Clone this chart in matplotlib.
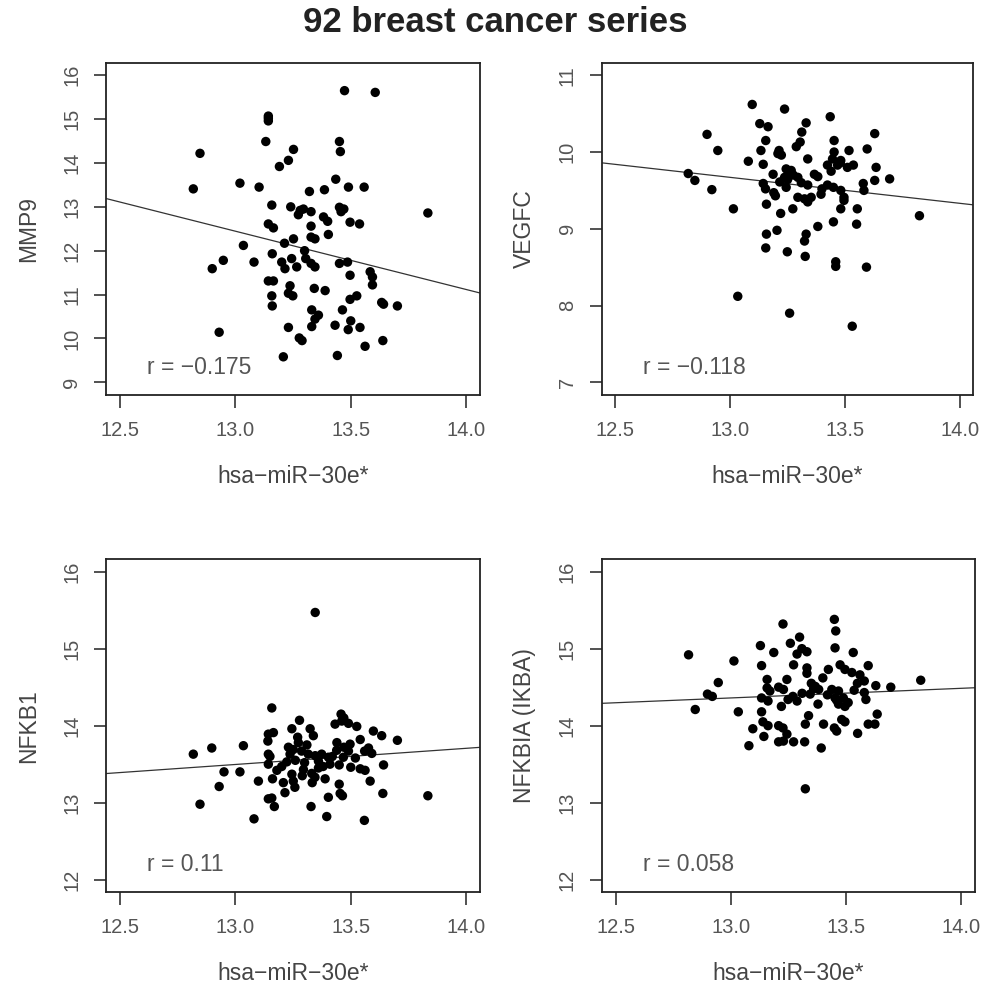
import numpy as np
import matplotlib
matplotlib.use("Agg")
import matplotlib.pyplot as plt

plt.rcParams['font.family'] = ['Liberation Sans', 'DejaVu Sans']

# --- data ----------------------------------------------------------------
mmp9_x = [13.473, 13.606, 13.143, 13.143, 13.132, 13.451, 13.455, 12.847, 13.252, 13.23,
          13.191, 13.435, 12.818, 13.02, 13.103, 13.321, 13.386, 13.49, 13.558, 13.158,
          13.24, 13.281, 13.295, 13.328, 13.273, 13.451, 13.458, 13.382, 13.40, 13.834,
          13.497, 13.538, 13.143, 13.165, 13.328, 13.403, 13.328, 13.345, 13.252, 13.213,
          13.035, 13.16, 13.244, 13.201, 13.215, 13.266, 13.305, 13.328, 13.345, 13.451,
          13.486, 13.497, 13.584, 13.594, 13.594, 12.948, 12.90, 13.081, 13.143, 13.165,
          13.158, 13.16, 13.237, 13.23, 13.249, 13.342, 13.389, 13.497, 13.526, 13.634,
          13.642, 13.702, 13.331, 13.36, 13.345, 13.331, 13.464, 13.432, 13.50, 13.489,
          13.54, 13.23, 13.277, 13.289, 12.93, 13.639, 13.562, 13.208, 13.442, 13.143,
          13.30, 13.47]
mmp9_y = [15.65, 15.61, 15.07, 14.96, 14.49, 14.49, 14.26, 14.22, 14.31, 14.06,
          13.92, 13.63, 13.41, 13.54, 13.45, 13.35, 13.39, 13.45, 13.45, 13.04,
          13.00, 12.92, 12.95, 12.89, 12.82, 12.99, 12.89, 12.77, 12.67, 12.86,
          12.65, 12.61, 12.61, 12.52, 12.56, 12.37, 12.31, 12.27, 12.27, 12.17,
          12.12, 11.93, 11.82, 11.74, 11.59, 11.63, 11.82, 11.71, 11.63, 11.71,
          11.74, 11.44, 11.52, 11.40, 11.22, 11.78, 11.59, 11.74, 11.31, 11.31,
          10.97, 10.74, 11.20, 11.03, 10.97, 11.14, 11.09, 10.89, 10.97, 10.82,
          10.78, 10.74, 10.65, 10.53, 10.44, 10.27, 10.65, 10.30, 10.40, 10.20,
          10.25, 10.25, 10.01, 9.95, 10.14, 9.95, 9.82, 9.58, 9.61, 15.02,
          12.00, 12.95]

vegfc_x = [13.096, 13.237, 13.436, 12.899, 13.129, 13.165, 13.331, 13.312, 13.63, 13.155,
           13.305, 13.288, 13.453, 12.946, 13.134, 13.213, 13.223, 13.518, 13.597, 13.453,
           13.079, 13.144, 13.338, 13.446, 13.482, 13.424, 13.468, 13.511, 13.537, 13.636,
           13.244, 13.259, 13.237, 13.275, 13.295, 13.187, 13.367, 13.382, 12.817, 12.846,
           13.695, 13.63, 13.144, 13.154, 13.216, 13.244, 13.338, 13.424, 13.45, 13.482,
           13.58, 13.583, 12.92, 13.197, 13.295, 13.324, 13.338, 13.396, 13.496, 13.496,
           13.158, 13.273, 13.482, 13.554, 13.014, 13.22, 13.825, 13.45, 13.382, 13.551,
           13.204, 13.158, 13.331, 13.324, 13.155, 13.249, 13.327, 13.46, 13.46, 13.594,
           13.033, 13.259, 13.532, 13.266, 13.208, 13.353, 13.48, 13.25, 13.31, 13.44,
           13.19, 13.40]
vegfc_y = [10.62, 10.56, 10.46, 10.23, 10.37, 10.33, 10.38, 10.26, 10.24, 10.15,
           10.13, 10.07, 10.15, 10.02, 10.02, 10.02, 9.96, 10.02, 10.04, 10.00,
           9.88, 9.84, 9.91, 9.91, 9.89, 9.83, 9.83, 9.80, 9.83, 9.80,
           9.78, 9.72, 9.67, 9.70, 9.67, 9.71, 9.71, 9.68, 9.72, 9.63,
           9.65, 9.63, 9.59, 9.52, 9.61, 9.54, 9.57, 9.57, 9.54, 9.50,
           9.59, 9.50, 9.51, 9.43, 9.41, 9.39, 9.35, 9.45, 9.41, 9.37,
           9.32, 9.26, 9.26, 9.26, 9.26, 9.20, 9.17, 9.09, 9.03, 9.06,
           8.98, 8.93, 8.93, 8.84, 8.75, 8.70, 8.64, 8.57, 8.51, 8.50,
           8.12, 7.90, 7.73, 9.76, 9.98, 9.41, 9.86, 9.64, 9.60, 9.75,
           9.47, 9.52]

nfkb1_x = [13.346, 13.158, 13.278, 13.245, 13.324, 13.338, 13.458, 13.461, 13.49, 13.526,
           13.432, 13.598, 13.634, 13.702, 13.143, 13.165, 13.141, 12.818, 12.898, 13.035,
           13.143, 13.273, 13.251, 13.237, 13.287, 13.316, 13.346, 13.374, 13.403, 13.439,
           13.497, 13.541, 13.49, 13.577, 13.591, 13.223, 13.201, 13.143, 13.36, 13.45,
           13.468, 13.50, 13.541, 13.562, 13.642, 12.951, 13.02, 13.295, 13.331, 13.345,
           13.389, 13.245, 13.10, 13.161, 13.208, 13.251, 13.258, 13.215, 13.333, 13.45,
           13.584, 12.93, 13.454, 13.464, 13.639, 13.834, 13.403, 13.143, 13.158, 13.169,
           12.847, 13.328, 13.081, 13.396, 13.559, 13.26, 13.30, 13.42, 13.47, 13.52,
           13.36, 13.23, 13.18, 13.29, 13.41, 13.56, 13.31, 13.47, 13.15, 13.44,
           13.38, 13.27]
nfkb1_y = [15.47, 14.23, 14.07, 13.96, 13.96, 13.87, 14.15, 14.06, 14.03, 13.99,
           14.02, 13.93, 13.87, 13.81, 13.89, 13.91, 13.80, 13.63, 13.71, 13.74,
           13.63, 13.78, 13.69, 13.63, 13.67, 13.63, 13.61, 13.63, 13.59, 13.68,
           13.76, 13.82, 13.67, 13.71, 13.64, 13.53, 13.47, 13.50, 13.54, 13.49,
           13.59, 13.46, 13.44, 13.42, 13.49, 13.40, 13.40, 13.43, 13.38, 13.33,
           13.31, 13.37, 13.28, 13.31, 13.26, 13.28, 13.20, 13.13, 13.26, 13.24,
           13.28, 13.21, 13.12, 13.09, 13.12, 13.09, 13.07, 13.05, 13.06, 12.95,
           12.98, 12.95, 12.79, 12.82, 12.77, 13.55, 13.52, 13.60, 13.72, 13.58,
           13.45, 13.72, 13.42, 13.35, 13.50, 13.67, 13.75, 14.10, 13.60, 13.78,
           13.47, 13.85]

nfkbia_x = [13.45, 13.456, 13.227, 13.299, 13.259, 13.129, 13.309, 13.331, 13.288, 13.453,
            13.532, 12.817, 13.187, 13.014, 13.134, 13.273, 13.331, 13.331, 13.424, 13.475,
            13.496, 13.526, 13.561, 13.597, 12.946, 12.899, 12.92, 13.158, 13.158, 13.208,
            13.244, 13.229, 13.367, 13.382, 13.439, 13.468, 13.536, 13.58, 13.63, 13.695,
            13.825, 13.58, 13.134, 13.162, 13.249, 13.288, 13.345, 13.379, 13.453, 13.489,
            13.468, 13.496, 13.587, 12.846, 13.033, 13.134, 13.338, 13.324, 13.403, 13.482,
            13.496, 13.45, 13.46, 13.636, 13.597, 13.626, 13.551, 13.096, 13.162, 13.144,
            13.208, 13.227, 13.244, 13.208, 13.229, 13.273, 13.321, 13.079, 13.393, 13.324,
            13.31, 13.35, 13.42, 13.51, 13.17, 13.27, 13.40, 13.46, 13.22, 13.36,
            13.14, 13.55]
nfkbia_y = [15.38, 15.23, 15.32, 15.15, 15.07, 15.04, 15.00, 14.96, 14.93, 15.01,
            14.95, 14.92, 14.95, 14.84, 14.78, 14.79, 14.75, 14.68, 14.73, 14.79,
            14.73, 14.69, 14.66, 14.78, 14.56, 14.41, 14.38, 14.60, 14.49, 14.50,
            14.60, 14.47, 14.51, 14.47, 14.47, 14.45, 14.46, 14.58, 14.52, 14.50,
            14.59, 14.43, 14.36, 14.32, 14.34, 14.32, 14.41, 14.28, 14.36, 14.36,
            14.28, 14.25, 14.34, 14.21, 14.18, 14.18, 14.13, 14.02, 14.02, 14.08,
            14.05, 13.97, 13.93, 14.15, 14.02, 14.02, 13.90, 13.96, 14.00, 13.86,
            14.00, 13.97, 13.89, 13.79, 13.80, 13.79, 13.79, 13.74, 13.71, 13.18,
            14.42, 14.55, 14.40, 14.30, 14.45, 14.38, 14.62, 14.33, 14.25, 14.48,
            14.05, 14.55]

# regression lines as drawn (slope, intercept)
fit_mmp9 = (-1.33, 29.735)
fit_vegfc = (-0.338, 14.064)
fit_nfkb1 = (0.21, 10.766)
fit_nfkbia = (0.125, 12.735)

r_labels = ["r = \u22120.175", "r = \u22120.118", "r = 0.11", "r = 0.058"]
y_labels = ["MMP9", "VEGFC", "NFKB1", "NFKBIA (IKBA)"]
x_label = "hsa\u2212miR\u221230e*"
x_ticks = [12.5, 13.0, 13.5, 14.0]
y_ticks = [[9, 10, 11, 12, 13, 14, 15, 16], [7, 8, 9, 10, 11],
           [12, 13, 14, 15, 16], [12, 13, 14, 15, 16]]
y_lims = [(8.72, 16.28), (6.84, 11.16), (11.84, 16.16), (11.84, 16.16)]

panels = [(mmp9_x, mmp9_y, fit_mmp9), (vegfc_x, vegfc_y, fit_vegfc),
          (nfkb1_x, nfkb1_y, fit_nfkb1), (nfkbia_x, nfkbia_y, fit_nfkbia)]

# axes boxes in figure fractions [left, bottom, width, height]
boxes = [[0.107, 0.6031, 0.3774, 0.3335],
         [0.6072, 0.6031, 0.375, 0.3335],
         [0.107, 0.1026, 0.3774, 0.3347],
         [0.6072, 0.1026, 0.3765, 0.3347]]

fig = plt.figure(figsize=(9.91, 9.94), dpi=100, facecolor='white')

for i, (xs, ys, fit) in enumerate(panels):
    ax = fig.add_axes(boxes[i])
    ax.scatter(xs, ys, s=46, color='black', edgecolors='none', zorder=3)
    ax.axline((0, fit[1]), slope=fit[0], color='#333333', lw=0.9, zorder=2)
    ax.set_xlim(12.44, 14.06)
    ax.set_ylim(*y_lims[i])
    ax.set_xticks(x_ticks)
    ax.set_xticklabels([f"{t:.1f}" for t in x_ticks])
    ax.set_yticks(y_ticks[i])
    ax.set_yticklabels([str(t) for t in y_ticks[i]], rotation=90, va='center')
    ax.tick_params(axis='both', length=9, width=1.1, color='#222222',
                   labelsize=14.5, labelcolor='#555555')
    ax.tick_params(axis='x', pad=10)
    ax.tick_params(axis='y', pad=9)
    for sp in ax.spines.values():
        sp.set_linewidth(1.3)
        sp.set_color('#222222')
    ax.set_xlabel(x_label, fontsize=16.5, color='#444444', labelpad=18)
    ax.set_ylabel(y_labels[i], fontsize=16.5, color='#444444', labelpad=16)
    ax.text(0.11, 0.082, r_labels[i], transform=ax.transAxes,
            ha='left', va='center', fontsize=16.5, color='#555555')

fig.suptitle("92 breast cancer series", y=0.977, va='center',
             fontsize=25, fontweight='bold', color='#222222')

fig.savefig("out.png", dpi=100, facecolor='white')
